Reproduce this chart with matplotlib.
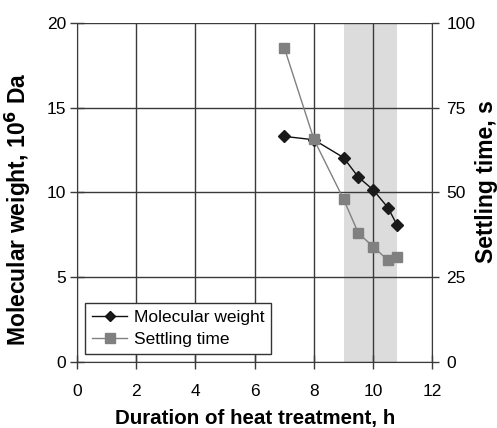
import matplotlib
matplotlib.use("Agg")
import matplotlib.pyplot as plt
from matplotlib.lines import Line2D

plt.rcParams['font.family'] = ['Liberation Sans', 'DejaVu Sans']

duration = [7, 8, 9, 9.5, 10, 10.5, 10.8]
mol_weight = [13.3, 13.1, 12.05, 10.9, 10.15, 9.1, 8.1]
settling = [92.6, 65.6, 48.0, 38.0, 34.0, 30.0, 31.0]
shade_range = (9, 10.8)
x_ticks = [0, 2, 4, 6, 8, 10, 12]
y_left_ticks = [0, 5, 10, 15, 20]
y_right_ticks = [0, 25, 50, 75, 100]

fig = plt.figure(figsize=(4.97, 4.28), dpi=100)
ax = fig.add_axes([0.155, 0.154, 0.715, 0.793])
ax2 = ax.twinx()

gc = '#3a3a3a'
ax.axvspan(*shade_range, color='#dcdcdc', zorder=0, lw=0)
ax.set_xlim(0, 12)
ax.set_ylim(0, 20)
ax2.set_ylim(0, 100)
ax.set_xticks(x_ticks)
ax.set_yticks(y_left_ticks)
ax2.set_yticks(y_right_ticks)
ax.grid(True, color=gc, lw=1.0)
ax.set_axisbelow(True)

for a in (ax, ax2):
    for s in a.spines.values():
        s.set_visible(False)
ax.spines['left'].set_visible(True)
ax.spines['bottom'].set_visible(True)
ax2.spines['right'].set_visible(True)
for s in ('left', 'bottom'):
    ax.spines[s].set_color(gc)
ax2.spines['right'].set_color(gc)

ax.tick_params(axis='both', direction='inout', length=10, width=1, color=gc, labelsize=12.5, pad=3)
ax.tick_params(axis='x', pad=11)
ax2.tick_params(axis='y', direction='out', length=5, width=1, color=gc, labelsize=12.5, pad=5)

ax.plot(duration, mol_weight, color='#111111', lw=1.0, marker='D', ms=6.5, mfc='#1a1a1a', mec='#1a1a1a', zorder=5, clip_on=False)
ax2.plot(duration, settling, color='#808080', lw=1.0, marker='s', ms=7.5, mfc='#808080', mec='#808080', zorder=4, clip_on=False)

ax.set_xlabel('Duration of heat treatment, h', fontsize=14.8, fontweight='bold')
ax.xaxis.set_label_coords(0.5, -0.138)
ax.set_ylabel('Molecular weight, 10$^{\\mathbf{6}}$ Da', fontsize=16.5, fontweight='bold')
ax.yaxis.set_label_coords(-0.124, 0.45)
ax2.set_ylabel('Settling time, s', fontsize=16.5, fontweight='bold')
ax2.yaxis.set_label_coords(1.121, 0.533)

handles = [Line2D([], [], color='#111111', lw=1, marker='D', ms=5, mfc='#1a1a1a'),
           Line2D([], [], color='#808080', lw=1, marker='s', ms=7, mfc='#808080', mec='#808080')]
leg = ax2.legend(handles, ['Molecular weight', 'Settling time'], loc='lower left',
                 bbox_to_anchor=(0.023, 0.024), borderaxespad=0, fontsize=12.5, frameon=True, fancybox=False,
                 edgecolor='#333333', framealpha=1, handlelength=2.0, borderpad=0.4, labelspacing=0.4, handletextpad=0.4)
leg.get_frame().set_linewidth(1)
leg.set_zorder(10)

fig.savefig('out.png', dpi=100)
